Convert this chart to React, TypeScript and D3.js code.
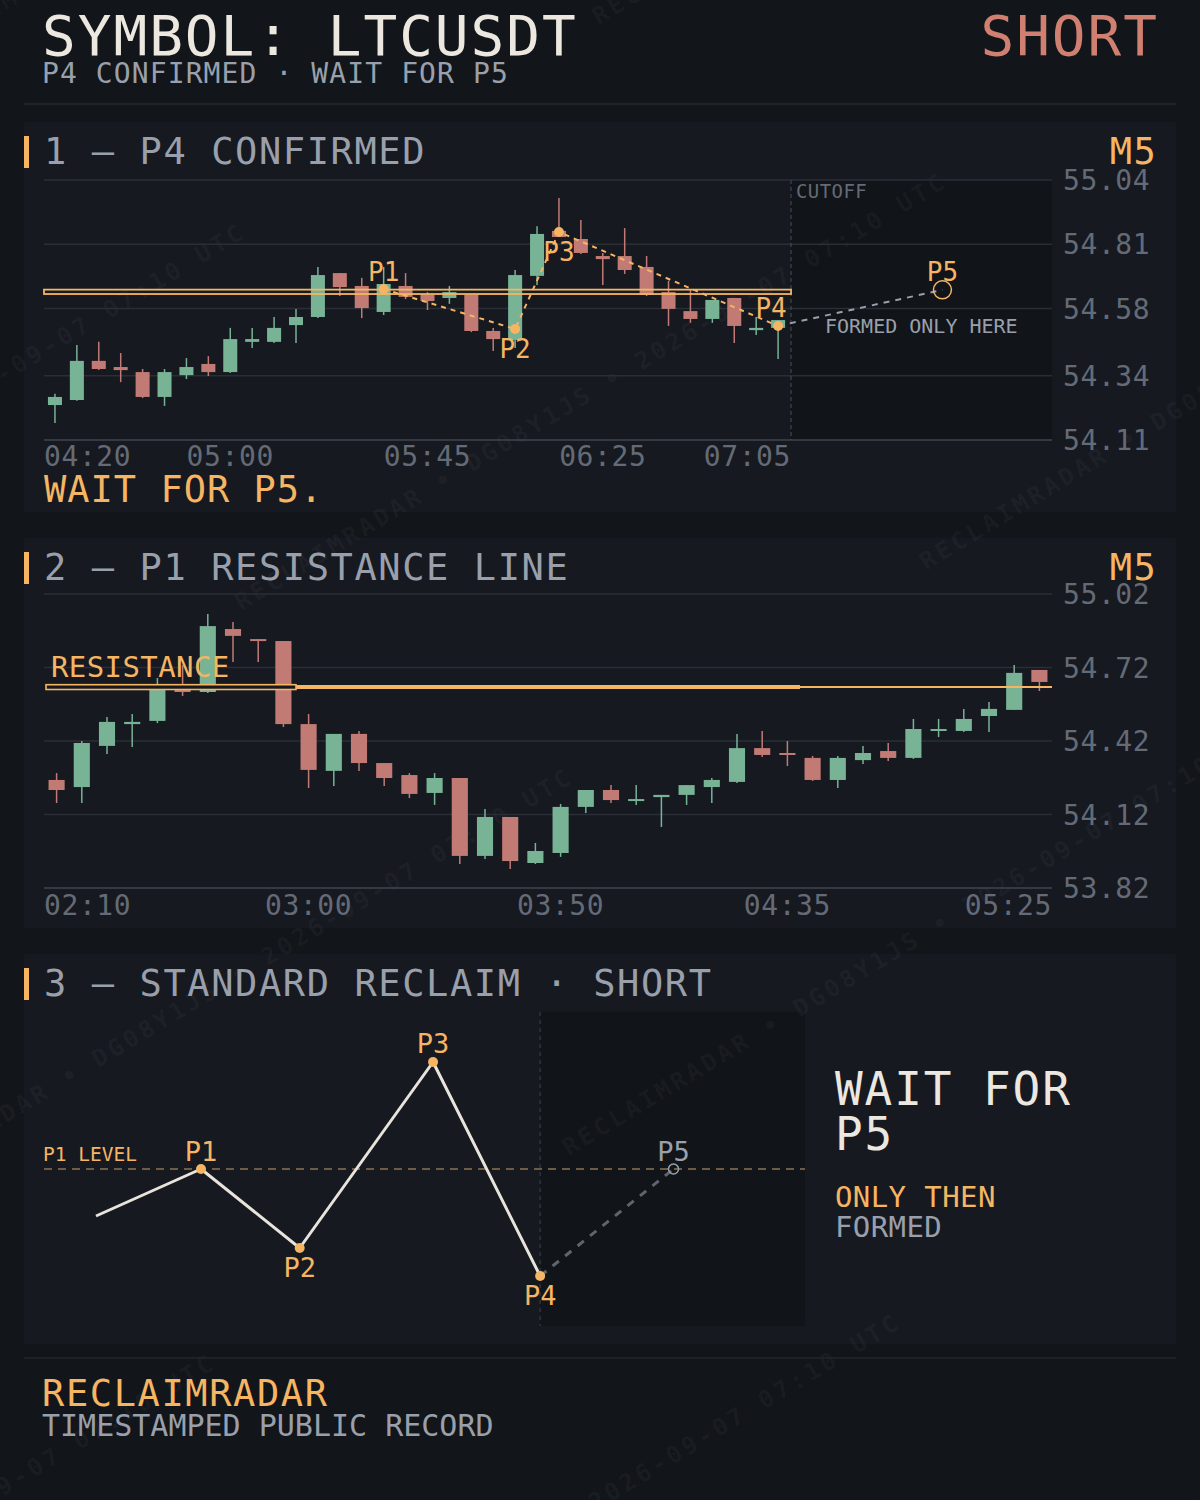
import React from "react";
import * as d3 from "d3";

const FONT = "'DejaVu Sans Mono', 'Liberation Mono', monospace";
const C = {
  page: "#12151a",
  panel: "#161920",
  dark: "#111419",
  grid: "#2a2e35",
  axis: "#40444c",
  green: "#78b396",
  red: "#c27b74",
  orange: "#f5b562",
  white: "#ece8e0",
  gray: "#9aa0ab",
  axisText: "#646b76",
  short: "#d08070",
};

// ---------- Panel 1 : P4 confirmed (M5, 04:20 → 07:05) ----------
const p1Open = [54.235, 54.253, 54.393, 54.371, 54.353, 54.264, 54.342, 54.382, 54.353, 54.461, 54.461, 54.521, 54.55, 54.707, 54.661, 54.568, 54.661, 54.629, 54.618, 54.629, 54.5, 54.468, 54.697, 54.858, 54.829, 54.768, 54.768, 54.729, 54.639, 54.571, 54.543, 54.618, 54.503, 54.511];
const p1High = [54.275, 54.45, 54.461, 54.421, 54.364, 54.364, 54.403, 54.41, 54.511, 54.511, 54.55, 54.579, 54.729, 54.707, 54.69, 54.729, 54.707, 54.639, 54.661, 54.629, 54.511, 54.718, 54.875, 54.976, 54.897, 54.779, 54.868, 54.768, 54.679, 54.65, 54.611, 54.618, 54.55, 54.539];
const p1Low = [54.171, 54.25, 54.36, 54.317, 54.26, 54.232, 54.328, 54.339, 54.35, 54.439, 54.457, 54.457, 54.546, 54.625, 54.546, 54.557, 54.614, 54.575, 54.597, 54.496, 54.428, 54.439, 54.664, 54.836, 54.775, 54.664, 54.704, 54.625, 54.518, 54.529, 54.529, 54.457, 54.486, 54.4];
const p1Close = [54.264, 54.393, 54.364, 54.36, 54.264, 54.353, 54.371, 54.353, 54.471, 54.471, 54.511, 54.55, 54.7, 54.657, 54.582, 54.668, 54.622, 54.607, 54.639, 54.5, 54.471, 54.7, 54.847, 54.836, 54.779, 54.757, 54.718, 54.629, 54.579, 54.543, 54.611, 54.518, 54.511, 54.539];
const p1XTickIdx = [0, 8, 17, 25, 33];
const p1XTickLabels = ["04:20", "05:00", "05:45", "06:25", "07:05"];
const p1YTicks = [55.04, 54.81, 54.58, 54.34, 54.11];
const p1PivotNames = ["P1", "P2", "P3", "P4"];
const p1PivotIdx = [15, 21, 23, 33];
const p1PivotPrice = [54.65, 54.507, 54.854, 54.518];
const p1P5Idx = 40.5;
const p1P5Price = 54.647;
const resistancePrice = 54.64;

// ---------- Panel 2 : P1 resistance line (M5, 02:10 → 05:25) ----------
const p2Open = [54.261, 54.232, 54.4, 54.489, 54.502, 54.64, 54.62, 54.877, 54.836, 54.828, 54.489, 54.298, 54.449, 54.33, 54.281, 54.208, 54.269, 53.951, 54.11, 53.922, 53.963, 54.151, 54.22, 54.175, 54.191, 54.2, 54.232, 54.253, 54.391, 54.371, 54.351, 54.261, 54.342, 54.379, 54.351, 54.461, 54.461, 54.522, 54.547, 54.71];
const p2High = [54.289, 54.42, 54.518, 54.53, 54.677, 54.73, 54.938, 54.906, 54.836, 54.828, 54.53, 54.449, 54.461, 54.33, 54.289, 54.289, 54.269, 54.142, 54.11, 54.004, 54.163, 54.22, 54.24, 54.24, 54.2, 54.24, 54.269, 54.449, 54.461, 54.42, 54.359, 54.359, 54.4, 54.412, 54.51, 54.51, 54.551, 54.579, 54.73, 54.71];
const p2Low = [54.167, 54.167, 54.367, 54.396, 54.493, 54.604, 54.616, 54.742, 54.742, 54.477, 54.228, 54.236, 54.298, 54.236, 54.187, 54.159, 53.918, 53.938, 53.898, 53.918, 53.947, 54.126, 54.167, 54.159, 54.069, 54.159, 54.167, 54.249, 54.355, 54.318, 54.257, 54.228, 54.326, 54.338, 54.347, 54.436, 54.457, 54.457, 54.547, 54.624];
const p2Close = [54.22, 54.412, 54.498, 54.498, 54.64, 54.62, 54.889, 54.849, 54.828, 54.489, 54.302, 54.449, 54.33, 54.269, 54.204, 54.269, 53.951, 54.11, 53.93, 53.971, 54.151, 54.22, 54.179, 54.183, 54.2, 54.24, 54.261, 54.391, 54.363, 54.363, 54.261, 54.351, 54.371, 54.351, 54.469, 54.469, 54.51, 54.551, 54.698, 54.661];
const p2XTickIdx = [0, 10, 20, 29, 39];
const p2XTickLabels = ["02:10", "03:00", "03:50", "04:35", "05:25"];
const p2YTicks = [55.02, 54.72, 54.42, 54.12, 53.82];
const p2ZoneEndIdx = 9.5;
const p2ThickEndIdx = 29.5;

// ---------- Panel 3 : standard reclaim schematic ----------
const p3Names = ["", "P1", "P2", "P3", "P4"];
const p3T = [0, 1, 1.94, 3.21, 4.23];
const p3V = [-0.47, 0, -0.79, 1.07, -1.07];
const p3P5T = 5.5;
const p3P5V = 0;

const WM_TEXT = "RECLAIMRADAR • DG08Y1JS • 2026-09-07 07:10 UTC";

function Candles({ open, high, low, close, x, y, bodyW }: any) {
  return (
    <g>
      {open.map((o: number, i: number) => {
        const c = close[i];
        const col = c >= o ? C.green : C.red;
        const cx = x(i);
        const yTop = y(Math.max(o, c));
        const yBot = y(Math.min(o, c));
        const h = Math.max(2, yBot - yTop);
        return (
          <g key={i}>
            <line x1={cx} x2={cx} y1={y(high[i])} y2={y(low[i])} stroke={col} strokeWidth={1.5} />
            <rect x={cx - bodyW / 2} y={yTop} width={bodyW} height={h} fill={col} />
          </g>
        );
      })}
    </g>
  );
}

function XLabels({ idx, labels, x, y, minX, maxX }: any) {
  const fs = 28;
  const ls = 0.6;
  const adv = fs * 0.602 + ls;
  return (
    <g>
      {labels.map((lab: string, i: number) => {
        const w = lab.length * adv;
        let cx = x(idx[i]);
        cx = Math.max(minX + w / 2, Math.min(maxX - w / 2, cx));
        return (
          <text key={lab} x={cx - w / 2} y={y} fontSize={fs} letterSpacing={ls} fill={C.axisText}>
            {lab}
          </text>
        );
      })}
    </g>
  );
}

function YGrid({ ticks, y, x0, x1, labelX, fmt }: any) {
  const minT = Math.min(...ticks);
  return (
    <g>
      {ticks.map((t: number) => (
        <g key={t}>
          <line x1={x0} x2={x1} y1={y(t)} y2={y(t)} stroke={t === minT ? C.axis : C.grid} strokeWidth={1.5} />
          <text x={labelX} y={y(t) + 10} fontSize={28} letterSpacing={0.6} fill={C.axisText}>
            {fmt(t)}
          </text>
        </g>
      ))}
    </g>
  );
}

function PanelTitle({ y, label, right }: any) {
  return (
    <g>
      <rect x={24} y={y - 28} width={5} height={32} fill={C.orange} />
      <text x={44} y={y} fontSize={37} letterSpacing={1.6} fill={C.gray}>
        {label}
      </text>
      {right && (
        <text x={1157} y={y} fontSize={37} letterSpacing={1.3} fill={C.orange} textAnchor="end">
          {right}
        </text>
      )}
    </g>
  );
}

function Watermark() {
  const rows = d3.range(-1, 6);
  const cols = d3.range(-2, 3);
  return (
    <g
      transform="rotate(-31)"
      fill="#ffffff"
      fillOpacity={0.045}
      fontSize={24}
      fontWeight="bold"
      letterSpacing={3.5}
    >
      {rows.flatMap((k) => {
        const v = 330 + 318 * k;
        const u0 = Math.abs(k) % 2 === 0 ? -735 : -108;
        return cols.map((n) => (
          <text key={`${k}_${n}`} x={u0 + n * 1235} y={v}>
            {WM_TEXT}
          </text>
        ));
      })}
    </g>
  );
}

export default function App() {
  const W = 1200;
  const H = 1500;
  const fmt = d3.format(".2f");

  // panel 1
  const x1 = d3.scaleLinear().domain([-0.5, 45.5]).range([44, 1052]);
  const y1 = d3.scaleLinear().domain([54.11, 55.04]).range([440, 180]);
  const cut1 = x1(p1Open.length - 0.5) + 2;
  const bw1 = (x1(1) - x1(0)) * 0.64;
  const pivots1 = p1PivotIdx.map((d, i) => [x1(d), y1(p1PivotPrice[i])] as [number, number]);
  const p5x1 = x1(p1P5Idx);
  const p5y1 = y1(p1P5Price);
  const line = d3.line();
  const rY1 = y1(resistancePrice);
  const p1LabelDy = [-8, 29, 29, -9];
  const p1LabelDx = [0, 0, 0, -7];

  // panel 2
  const x2 = d3.scaleLinear().domain([-0.5, p2Open.length - 0.5]).range([44, 1052]);
  const y2 = d3.scaleLinear().domain([53.82, 55.02]).range([888, 594]);
  const bw2 = (x2(1) - x2(0)) * 0.64;
  const rY2 = y2(resistancePrice);

  // panel 3
  const x3 = d3.scaleLinear().domain([0, p3P5T]).range([96, 673.5]);
  const y3 = d3.scaleLinear().domain([0, 1]).range([1169, 1069]);
  const pts3 = p3T.map((t, i) => [x3(t), y3(p3V[i])] as [number, number]);
  const cut3 = x3(p3T[p3T.length - 1]);
  const p3LabelDy = [0, -8, 29, -9, 29];

  return (
    <svg
      width={W}
      height={H}
      viewBox={`0 0 ${W} ${H}`}
      style={{ position: "absolute", left: 0, top: 0, display: "block" }}
      fontFamily={FONT}
    >
      <rect x={0} y={0} width={W} height={H} fill={C.page} />

      {/* header */}
      <text x={42} y={55} fontSize={56} letterSpacing={2} fill={C.white}>
        SYMBOL: LTCUSDT
      </text>
      <text x={42} y={83} fontSize={28} letterSpacing={1.1} fill={C.gray}>
        P4 CONFIRMED · WAIT FOR P5
      </text>
      <text x={1159} y={55} fontSize={56} letterSpacing={2} fill={C.short} textAnchor="end">
        SHORT
      </text>
      <line x1={24} x2={1176} y1={104} y2={104} stroke="#262a31" strokeWidth={1.5} />

      {/* panel backgrounds */}
      <rect x={24} y={122} width={1152} height={390} fill={C.panel} />
      <rect x={24} y={538} width={1152} height={390} fill={C.panel} />
      <rect x={24} y={954} width={1152} height={390} fill={C.panel} />
      <rect x={cut1} y={180} width={1052 - cut1} height={260} fill={C.dark} />
      <rect x={cut3} y={1012} width={805 - cut3} height={314} fill={C.dark} />

      <Watermark />

      {/* ---------- panel 1 ---------- */}
      <PanelTitle y={164} label="1 — P4 CONFIRMED" right="M5" />
      <YGrid ticks={p1YTicks} y={y1} x0={44} x1={1052} labelX={1063} fmt={fmt} />
      <line x1={cut1} x2={cut1} y1={180} y2={440} stroke="#4a4f57" strokeWidth={1} strokeDasharray="4 3" />
      <text x={cut1 + 5} y={198} fontSize={19} letterSpacing={0.4} fill={C.axisText}>
        CUTOFF
      </text>
      <Candles open={p1Open} high={p1High} low={p1Low} close={p1Close} x={x1} y={y1} bodyW={bw1} />
      <rect x={44} y={rY1 - 2.2} width={cut1 - 44} height={4.4} fill="none" stroke={C.orange} strokeWidth={1.8} />
      <path d={line(pivots1) || ""} fill="none" stroke={C.orange} strokeWidth={2} strokeDasharray="5 5" />
      <path
        d={line([pivots1[pivots1.length - 1], [p5x1, p5y1]]) || ""}
        fill="none"
        stroke={C.gray}
        strokeWidth={2}
        strokeDasharray="6 6"
      />
      {pivots1.map(([px, py], i) => (
        <g key={p1PivotNames[i]}>
          <circle cx={px} cy={py} r={5} fill={C.orange} />
          <text x={px + p1LabelDx[i]} y={py + p1LabelDy[i]} fontSize={26} fill={C.orange} textAnchor="middle">
            {p1PivotNames[i]}
          </text>
        </g>
      ))}
      <circle cx={p5x1} cy={p5y1} r={9} fill="none" stroke={C.orange} strokeWidth={1.5} />
      <text x={p5x1} y={p5y1 - 9} fontSize={26} fill={C.orange} textAnchor="middle">
        P5
      </text>
      <text x={825} y={333} fontSize={20} fill={C.gray}>
        FORMED ONLY HERE
      </text>
      <XLabels idx={p1XTickIdx} labels={p1XTickLabels} x={x1} y={466} minX={44} maxX={cut1} />
      <text x={44} y={502} fontSize={37} letterSpacing={1} fill={C.orange}>
        WAIT FOR P5.
      </text>

      {/* ---------- panel 2 ---------- */}
      <PanelTitle y={580} label="2 — P1 RESISTANCE LINE" right="M5" />
      <YGrid ticks={p2YTicks} y={y2} x0={44} x1={1052} labelX={1063} fmt={fmt} />
      <Candles open={p2Open} high={p2High} low={p2Low} close={p2Close} x={x2} y={y2} bodyW={bw2} />
      <line x1={46} x2={1052} y1={rY2} y2={rY2} stroke={C.orange} strokeWidth={2} />
      <line x1={x2(p2ZoneEndIdx)} x2={x2(p2ThickEndIdx)} y1={rY2} y2={rY2} stroke={C.orange} strokeWidth={4} />
      <rect
        x={46}
        y={rY2 - 2.4}
        width={x2(p2ZoneEndIdx) - 46}
        height={4.8}
        fill={C.panel}
        stroke={C.orange}
        strokeWidth={1.6}
      />
      <text x={51} y={677} fontSize={29} letterSpacing={0.4} fill={C.orange}>
        RESISTANCE
      </text>
      <XLabels idx={p2XTickIdx} labels={p2XTickLabels} x={x2} y={915} minX={44} maxX={1052} />

      {/* ---------- panel 3 ---------- */}
      <PanelTitle y={996} label="3 — STANDARD RECLAIM · SHORT" />
      <line x1={cut3} x2={cut3} y1={1012} y2={1326} stroke="#3a3f48" strokeWidth={1} strokeDasharray="4 4" />
      <line x1={44} x2={805} y1={y3(0)} y2={y3(0)} stroke="#8a7452" strokeWidth={1.5} strokeDasharray="8 6" />
      <text x={43} y={1161} fontSize={19.5} fill={C.orange}>
        P1 LEVEL
      </text>
      <path d={line(pts3) || ""} fill="none" stroke="#e8e4dc" strokeWidth={3} strokeLinejoin="round" />
      <path
        d={line([pts3[pts3.length - 1], [x3(p3P5T), y3(p3P5V)]]) || ""}
        fill="none"
        stroke="#5f656e"
        strokeWidth={3}
        strokeDasharray="8 8"
      />
      {pts3.map(([px, py], i) =>
        i === 0 ? null : (
          <g key={p3Names[i]}>
            <circle cx={px} cy={py} r={5} fill={C.orange} />
            <text x={px} y={py + p3LabelDy[i]} fontSize={27} fill={C.orange} textAnchor="middle">
              {p3Names[i]}
            </text>
          </g>
        )
      )}
      <circle cx={x3(p3P5T)} cy={y3(p3P5V)} r={5} fill="none" stroke={C.gray} strokeWidth={1.5} />
      <text x={x3(p3P5T)} y={y3(p3P5V) - 8} fontSize={27} fill={C.gray} textAnchor="middle">
        P5
      </text>
      <text x={835} y={1105} fontSize={46} letterSpacing={1.9} fill={C.white}>
        WAIT FOR
      </text>
      <text x={835} y={1150} fontSize={46} letterSpacing={1.9} fill={C.white}>
        P5
      </text>
      <text x={835} y={1207} fontSize={29} letterSpacing={0.4} fill={C.orange}>
        ONLY THEN
      </text>
      <text x={835} y={1237} fontSize={29} letterSpacing={0.4} fill={C.gray}>
        FORMED
      </text>

      {/* footer */}
      <line x1={24} x2={1176} y1={1358} y2={1358} stroke="#23272e" strokeWidth={1.5} />
      <text x={42} y={1406} fontSize={37} letterSpacing={1.6} fill={C.orange}>
        RECLAIMRADAR
      </text>
      <text x={42} y={1436} fontSize={30} fill={C.gray}>
        TIMESTAMPED PUBLIC RECORD
      </text>
    </svg>
  );
}
